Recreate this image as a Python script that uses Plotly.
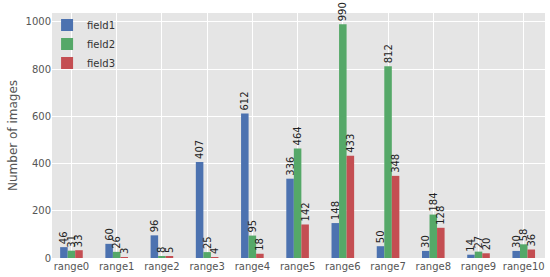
import plotly.graph_objects as go

# Image counts per range bucket
ranges = ['range0', 'range1', 'range2', 'range3', 'range4', 'range5',
          'range6', 'range7', 'range8', 'range9', 'range10']
field1 = [46, 60, 96, 407, 612, 336, 148, 50, 30, 14, 30]
field2 = [31, 26, 8, 25, 95, 464, 990, 812, 184, 27, 58]
field3 = [33, 3, 5, 4, 18, 142, 433, 348, 128, 20, 36]

FONT = 'DejaVu Sans'
colors = {'field1': '#4C72B0', 'field2': '#55A868', 'field3': '#C44E52'}

fig = go.Figure()
for name, vals in [('field1', field1), ('field2', field2), ('field3', field3)]:
    fig.add_trace(go.Bar(
        x=ranges, y=vals, name=name,
        marker_color=colors[name],
        marker_line_width=0,
        text=[str(v) for v in vals],
        textposition='outside',
        textangle=-90,
        constraintext='none',
        cliponaxis=False,
        textfont=dict(family=FONT, size=10, color='#222'),
    ))

fig.update_layout(
    width=550, height=277,
    margin=dict(l=52, r=5, t=13, b=19, autoexpand=False),
    barmode='group', bargap=0.5, bargroupgap=0,
    paper_bgcolor='white', plot_bgcolor='#E5E5E5',
    font=dict(family=FONT, size=10, color='#555'),
    showlegend=True,
    legend=dict(x=-0.01, y=1.01, xanchor='left', yanchor='top',
                bgcolor='rgba(0,0,0,0)', font=dict(size=10, color='#333'),
                tracegroupgap=0, itemwidth=30),
    xaxis=dict(range=[-0.43, 10.47], showgrid=True, gridcolor='white',
               gridwidth=1, ticks='', ticklabelstandoff=1, automargin=False,
               tickfont=dict(size=10, color='#555'), zeroline=False),
    yaxis=dict(range=[0, 1038], tickvals=[0, 200, 400, 600, 800, 1000],
               showgrid=True, gridcolor='white', gridwidth=1, ticks='',
               automargin=False,
               tickfont=dict(size=10, color='#555'), zeroline=False,
               title=dict(text='Number of images', font=dict(size=12, color='#555'),
                          standoff=5)),
)

# drop the browser's default page margin so the figure sits at 0,0
fig.write_html("out.html", config={'displayModeBar': False},
               post_script="document.body.style.margin='0px';")
